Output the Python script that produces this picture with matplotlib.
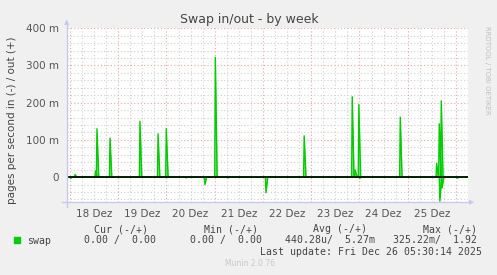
import matplotlib
matplotlib.use("Agg")
import matplotlib.pyplot as plt
from matplotlib.ticker import FixedLocator

# hours since Dec 18 00:00, values in milli pages/s
out_hours = [2.5, 12.7, 13.4, 19.9, 34.8, 43.8, 47.9, 72.3, 116.5, 140.4, 141.9, 143.7, 164.3, 182.4, 183.7, 184.7]
out_vals = [7, 16, 130, 105, 150, 116, 130, 322, 111, 216, 19, 195, 161, 37, 143, 205]
in_hours = [0.3, 57.7, 67.1, 78.6, 97.5, 144.1, 184.0, 185.1, 192.6]
in_vals = [3, 2, 20, 2, 42, 3, 65, 29, 3]

day_labels = ["18 Dez", "19 Dez", "20 Dez", "21 Dez", "22 Dez", "23 Dez", "24 Dez", "25 Dez"]
ytick_vals = [0, 100, 200, 300, 400]
ytick_labels = ["0", "100 m", "200 m", "300 m", "400 m"]

W, H = 497, 275
fig = plt.figure(figsize=(W / 100, H / 100), dpi=100, facecolor="#f0f0f0")
ax = fig.add_axes([67 / W, (H - 202) / H, (468 - 67) / W, (202 - 28.3) / H])
ax.set_facecolor("white")
ax.set_xlim(-1.5, 198)
ax.set_ylim(-67, 400)

# grid
for y in range(-60, 401, 20):
    if y % 100:
        ax.axhline(y, color="#d0d0d0", lw=0.8, ls=(0, (1, 2)), zorder=1)
for x in range(0, 198, 6):
    if x % 24:
        ax.axvline(x, color="#d0d0d0", lw=0.8, ls=(0, (1, 2)), zorder=1)
for y in ytick_vals:
    ax.axhline(y, color="#e8a8a8", lw=0.8, ls=(0, (1, 2)), zorder=1)
for x in range(0, 198, 24):
    ax.axvline(x, color="#e8a8a8", lw=0.8, ls=(0, (1, 2)), zorder=1)


def spikes(hours, vals, sign):
    xs, ys = [-1.5], [0]
    for h, v in sorted(zip(hours, vals)):
        xs += [h - 0.3, h, h + 0.9]
        ys += [0, sign * v, 0]
    xs.append(198)
    ys.append(0)
    return xs, ys


green = "#00cc00"
for hrs, vals, s in [(out_hours, out_vals, 1), (in_hours, in_vals, -1)]:
    xs, ys = spikes(hrs, vals, s)
    ax.fill_between(xs, ys, 0, color="#80e080", lw=0, zorder=2)
    ax.plot(xs, ys, color=green, lw=1.0, zorder=3)

ax.axhline(0, color="black", lw=1.2, zorder=4)

for sp in ax.spines.values():
    sp.set_visible(False)
ax.yaxis.set_major_locator(FixedLocator(ytick_vals))
ax.set_yticklabels(ytick_labels)
ax.xaxis.set_major_locator(FixedLocator([12 + 24 * i for i in range(8)]))
ax.set_xticklabels(day_labels)
ax.tick_params(length=0, labelsize=7.5, labelcolor="#555555")
ax.tick_params(axis="y", pad=6)
ax.tick_params(axis="x", pad=5)

# axis lines with arrows
axc = "#c8c8f0"
fig.add_artist(plt.Line2D([67 / W, 67 / W], [(H - 207) / H, (H - 24) / H], color=axc, lw=1))
fig.add_artist(plt.Line2D([62 / W, 470 / W], [(H - 202) / H, (H - 202) / H], color=axc, lw=1))
fig.text(67 / W, (H - 22) / H, "\u25b2", color=axc, fontsize=5, ha="center", va="center")
fig.text(472 / W, (H - 202) / H, "\u25b6", color=axc, fontsize=5, ha="center", va="center")

fig.text(249 / W, (H - 20) / H, "Swap in/out - by week", ha="center", va="center",
         fontsize=9, color="#444444")
fig.text(12 / W, (H - 120) / H, "pages per second in (-) / out (+)", rotation=90,
         ha="center", va="center", fontsize=7.5, color="#444444")
fig.text(487 / W, (H - 70) / H, "RRDTOOL / TOBI OETIKER", rotation=270, ha="center",
         va="center", fontsize=5, color="#c0c0c0")

mono = dict(family="DejaVu Sans Mono", fontsize=7.1, color="#444444", va="center")
fig.text(94 / W, (H - 229) / H, "Cur (-/+)", **mono)
fig.text(204 / W, (H - 229) / H, "Min (-/+)", **mono)
fig.text(313 / W, (H - 229) / H, "Avg (-/+)", **mono)
fig.text(423 / W, (H - 229) / H, "Max (-/+)", **mono)
fig.add_artist(plt.Rectangle((14 / W, (H - 243) / H), 6 / W, 6 / H, color=green))
fig.text(27 / W, (H - 240.5) / H, "swap", **mono)
fig.text(84 / W, (H - 240.5) / H, "0.00 /  0.00", **mono)
fig.text(190 / W, (H - 240.5) / H, "0.00 /  0.00", **mono)
fig.text(285 / W, (H - 240.5) / H, "440.28u/  5.27m   325.22m/  1.92", **mono)
fig.text(482 / W, (H - 252) / H, "Last update: Fri Dec 26 05:30:14 2025", ha="right", **mono)
fig.text(250 / W, (H - 263) / H, "Munin 2.0.76", ha="center", va="center", fontsize=5.5,
         color="#c8c8c8")

fig.savefig("out.png", dpi=100, facecolor=fig.get_facecolor())
